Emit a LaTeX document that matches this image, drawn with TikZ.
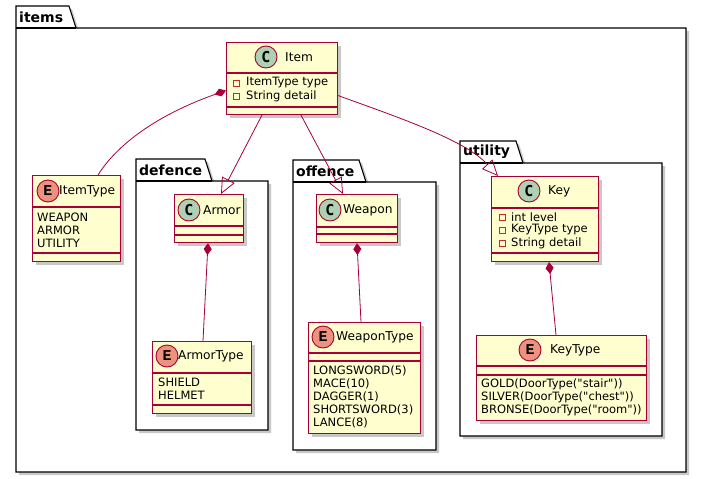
\documentclass[tikz,border=0pt]{standalone}
\usepackage{fontspec}
\setmainfont{DejaVu Sans}[Ligatures=TeXOff]
\newfontfamily\glyphC{DejaVu Sans Mono}
\newfontfamily\glyphE{Liberation Mono}
\usetikzlibrary{shadows,arrows.meta,calc}
\definecolor{umlred}{HTML}{A80036}
\definecolor{umlfill}{HTML}{FEFECE}
\definecolor{cgreen}{HTML}{ADD1B2}
\definecolor{esalmon}{HTML}{EB937F}
\definecolor{privred}{HTML}{C82930}
\tikzset{
 shad/.style={drop shadow={shadow xshift=3pt,shadow yshift=-3pt,opacity=0.3,fill=black!70}},
 cls/.style={draw=umlred,fill=umlfill,line width=1.1pt,rectangle,anchor=north west,inner sep=0pt,shad},
 sepline/.style={draw=umlred,line width=1.1pt},
 pkg/.style={draw=black,fill=white,line width=1.1pt,shad},
 pkglabel/.style={anchor=west,inner sep=0pt,font=\bfseries\fontsize{14}{14}\selectfont},
 cname/.style={anchor=west,inner sep=0pt,font=\fontsize{12.2}{12}\selectfont},
 mem/.style={anchor=west,inner sep=0pt,font=\fontsize{11.5}{11}\selectfont},
 cbadge/.style={circle,draw=umlred,fill=cgreen,line width=0.9pt,minimum size=22pt,inner sep=0pt,font=\glyphC\bfseries\fontsize{15}{15}\selectfont},
 ebadge/.style={circle,draw=umlred,fill=esalmon,line width=0.9pt,minimum size=22pt,inner sep=0pt,font=\glyphE\bfseries\fontsize{15}{15}\selectfont},
 priv/.style={draw=privred,line width=0.7pt,minimum size=6pt,inner sep=0pt,rectangle},
 comp/.style={draw=umlred,line width=0.8pt,{Diamond[fill=umlred,length=12pt,width=8pt]}-},
 inh/.style={draw=umlred,line width=0.8pt,-{Triangle[open,length=16pt,width=14pt]}},
}
\begin{document}
\begin{tikzpicture}[x=1pt,y=-1pt]
\useasboundingbox (0,0) rectangle (702,479);

% packages
\path[pkg] (16,6) -- (69,6) -- (76,28) -- (686,28) -- (686,472) -- (16,472) -- cycle;
\draw[black,line width=1.1pt] (16,28) -- (76,28);
\node[pkglabel] (lblitems) at (19,17) {items};

\path[pkg] (136,159) -- (205,159) -- (212,181) -- (268,181) -- (268,430) -- (136,430) -- cycle;
\draw[black,line width=1.1pt] (136,181) -- (212,181);
\node[pkglabel] (lbldef) at (139,170) {defence};

\path[pkg] (293,160) -- (359,160) -- (366,182) -- (436,182) -- (436,450) -- (293,450) -- cycle;
\draw[black,line width=1.1pt] (293,182) -- (366,182);
\node[pkglabel] (lbloff) at (296,171) {offence};

\path[pkg] (460,141) -- (516,141) -- (523,163) -- (662,163) -- (662,436) -- (460,436) -- cycle;
\draw[black,line width=1.1pt] (460,163) -- (523,163);
\node[pkglabel] (lblutil) at (463,152) {utility};

% Item
\node[cls,minimum width=111pt,minimum height=72pt] (item) at (226,42) {};
\draw[sepline] (226,73) -- (337,73);
\draw[sepline] (226,107) -- (337,107);
\node[cbadge] (itemb) at (266,57) {C};
\node[cname] (itemn) at (285,57) {Item};
\node[priv] (itemp1) at (236,83) {};
\node[mem] (itema1) at (246,83) {ItemType type};
\node[priv] (itemp2) at (236,96) {};
\node[mem] (itema2) at (246,96) {String detail};

% ItemType
\node[cls,minimum width=88pt,minimum height=86pt] (itemtype) at (32,175) {};
\draw[sepline] (32,207) -- (120,207);
\draw[sepline] (32,253) -- (120,253);
\node[ebadge] (itemtypeb) at (48,191) {E};
\node[cname] (itemtypen) at (59,191) {ItemType};
\node[mem] (itv1) at (37,217) {WEAPON};
\node[mem] (itv2) at (37,230) {ARMOR};
\node[mem] (itv3) at (37,243) {UTILITY};

% Armor
\node[cls,minimum width=69pt,minimum height=48pt] (armor) at (174,194) {};
\draw[sepline] (174,226) -- (243,226);
\draw[sepline] (174,235) -- (243,235);
\node[cbadge] (armorb) at (189,210) {C};
\node[cname] (armorn) at (203,210) {Armor};

% ArmorType
\node[cls,minimum width=99pt,minimum height=72pt] (armortype) at (152,341) {};
\draw[sepline] (152,373) -- (251,373);
\draw[sepline] (152,405) -- (251,405);
\node[ebadge] (armortypeb) at (167,356) {E};
\node[cname] (armortypen) at (178,356) {ArmorType};
\node[mem] (atv1) at (158,382) {SHIELD};
\node[mem] (atv2) at (158,395) {HELMET};

% Weapon
\node[cls,minimum width=81pt,minimum height=48pt] (weapon) at (316,194) {};
\draw[sepline] (316,227) -- (397,227);
\draw[sepline] (316,234) -- (397,234);
\node[cbadge] (weaponb) at (330,210) {C};
\node[cname] (weaponn) at (343,210) {Weapon};

% WeaponType
\node[cls,minimum width=112pt,minimum height=111pt] (weapontype) at (308,322) {};
\draw[sepline] (308,353) -- (420,353);
\draw[sepline] (308,361) -- (420,361);
\node[ebadge] (weapontypeb) at (323,337) {E};
\node[cname] (weapontypen) at (336,337) {WeaponType};
\node[mem] (wtv1) at (313,371) {LONGSWORD(5)};
\node[mem] (wtv2) at (313,384) {MACE(10)};
\node[mem] (wtv3) at (313,397) {DAGGER(1)};
\node[mem] (wtv4) at (313,410) {SHORTSWORD(3)};
\node[mem] (wtv5) at (313,423) {LANCE(8)};

% Key
\node[cls,minimum width=107pt,minimum height=85pt] (key) at (491,176) {};
\draw[sepline] (491,208) -- (598,208);
\draw[sepline] (491,253) -- (598,253);
\node[cbadge] (keyb) at (529,191) {C};
\node[cname] (keyn) at (548,191) {Key};
\node[priv] (keyp1) at (502,217) {};
\node[mem] (keya1) at (511,217) {int level};
\node[priv] (keyp2) at (502,230) {};
\node[mem] (keya2) at (511,230) {KeyType type};
\node[priv] (keyp3) at (502,243) {};
\node[mem] (keya3) at (511,243) {String detail};

% KeyType
\node[cls,minimum width=170pt,minimum height=85pt] (keytype) at (476,335) {};
\draw[sepline] (476,366) -- (646,366);
\draw[sepline] (476,375) -- (646,375);
\node[ebadge] (keytypeb) at (530,350) {E};
\node[cname] (keytypen) at (550,350) {KeyType};
\node[mem] (ktv1) at (481,384) {GOLD(DoorType("stair"))};
\node[mem] (ktv2) at (481,397) {SILVER(DoorType("chest"))};
\node[mem] (ktv3) at (481,410) {BRONSE(DoorType("room"))};

% connectors
\draw[comp] ([yshift=-12pt]item.west) .. controls (165,112) and (120,140) .. ([xshift=66pt]itemtype.north west);
\draw[inh] ([xshift=36pt]item.south west) -- ([xshift=47pt]armor.north west);
\draw[inh] ([xshift=75pt]item.south west) -- ([xshift=27pt]weapon.north west);
\draw[inh] ([yshift=-17pt]item.east) .. controls (400,118) and (465,140) .. ([xshift=7pt]key.north west);
\draw[comp] ([xshift=34pt]armor.south west) -- ([xshift=51pt]armortype.north west);
\draw[comp] ([xshift=41pt]weapon.south west) -- ([xshift=53pt]weapontype.north west);
\draw[comp] ([xshift=58pt]key.south west) -- ([xshift=80pt]keytype.north west);
\end{tikzpicture}
\end{document}
